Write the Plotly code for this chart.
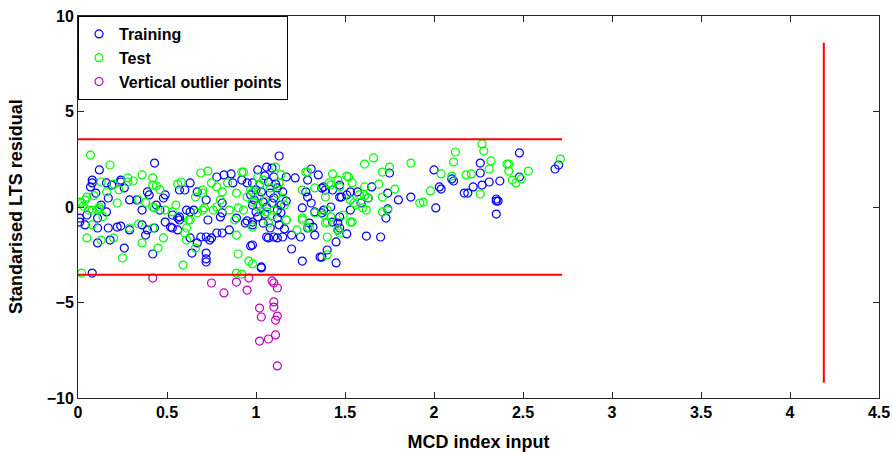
import plotly.graph_objects as go

# ---------------- data ----------------
train_x = [0.43,0.24,0.08,0.16,0.19,0.26,0.39,0.48,0.49,0.44,0.36,0.33,0.17,0.10,0.13,0.16,0.01,0.05,0.11,0.11,0.17,0.22,0.24,0.29,0.36,0.39,0.43,0.11,0.26,0.42,0.08,
           0.08,0.07,0.01,0.04,0.12,0.24,0.29,0.40,0.46,0.49,0.38,0.18,
           0.78,0.82,0.86,0.92,0.95,0.98,0.63,0.60,0.67,0.53,0.56,0.57,0.53,0.56,0.63,0.65,0.69,0.72,0.75,0.81,0.63,0.64,0.72,0.72,0.97,0.94,0.98,0.80,0.73,0.89,0.85,0.78,0.74,0.67,0.81,0.81,0.72,0.61,0.57,0.52,0.57,0.72,0.87,
           1.13,1.06,1.09,1.01,1.17,1.22,1.10,1.12,1.08,1.03,0.99,0.98,1.06,1.10,1.12,1.01,0.98,0.95,1.04,1.12,1.08,1.07,1.10,0.98,1.03,1.03,1.12,1.06,1.15,1.20,1.25,1.20,1.26,1.36,1.04,1.09,1.14,1.02,1.07,1.15,1.17,1.00,1.05,1.13,1.16,0.97,1.11,1.05,1.00,1.14,
           1.31,1.35,1.29,1.29,1.26,1.31,1.33,1.37,1.30,1.29,1.28,1.37,1.39,1.43,1.47,1.38,1.42,1.38,1.46,1.47,1.46,1.32,1.33,1.43,1.45,1.45,1.40,1.37,1.47,1.53,1.48,
           1.53,1.57,1.47,1.51,1.65,1.74,1.80,1.87,1.75,1.74,1.73,1.70,1.62,1.51,1.63,1.59,
           2.48,2.26,2.00,2.26,2.10,2.11,2.03,2.04,2.22,2.27,2.31,2.37,2.48,2.17,2.19,2.35,2.36,2.35,2.35,2.01,2.68,2.70]
train_y = [2.30,1.41,1.26,1.26,1.15,1.00,0.79,0.47,0.63,0.10,-0.16,0.37,0.47,0.73,0.10,-0.26,-0.79,-0.42,-0.58,-1.10,-1.10,-1.05,-1.00,-1.20,-0.94,-1.20,-1.10,-1.88,-2.15,-2.46,-3.46,
           1.41,1.05,-0.58,-0.94,1.94,1.31,0.37,0.63,-0.16,-0.79,-1.47,-1.73,
           1.57,1.68,1.73,1.41,1.26,1.26,1.26,0.89,0.79,-0.42,-0.58,-0.68,-1.10,-1.20,-0.26,-0.16,-1.57,-1.57,-1.62,-1.36,-1.62,-2.41,-2.41,-2.72,-2.04,-0.84,-0.94,-0.52,-0.68,-0.58,-1.20,-1.36,-1.73,-1.88,0.21,-0.31,0.37,-0.16,-0.52,-1.05,0.89,-2.88,1.26,
           2.67,2.09,2.04,1.94,1.57,1.52,1.57,1.00,0.73,0.79,0.37,0.10,0.00,0.47,-0.16,-0.52,-0.79,-0.73,-0.84,-0.58,-1.10,-1.62,-1.57,-1.99,-3.19,-3.14,-1.62,-1.57,-1.57,-1.47,-1.57,-2.20,-2.83,-2.62,0.26,0.21,0.10,1.15,1.31,0.79,0.31,-0.26,-0.37,-0.94,-1.15,0.63,1.20,1.63,0.90,-0.30,
           1.99,1.68,1.41,0.52,-0.05,0.21,-0.26,-0.31,-0.84,-1.10,0.79,0.99,0.89,0.89,1.15,1.05,0.00,-0.16,-0.84,-1.10,-1.20,-1.05,-1.47,-0.79,-1.83,-2.93,-2.25,-2.62,-0.52,-0.16,0.52,
           0.79,0.79,0.52,0.63,1.05,0.73,0.37,0.52,1.78,-0.10,-0.58,-1.57,-1.52,-1.41,0.47,0.21,
           2.83,2.30,1.94,1.78,1.47,1.36,1.05,0.94,1.05,1.15,1.31,1.36,1.57,0.73,0.73,0.42,0.31,0.31,-0.37,-0.05,1.99,2.20]

test_x = [0.07,0.18,0.13,0.28,0.28,0.31,0.36,0.42,0.42,0.44,0.01,0.02,0.04,0.06,0.08,0.11,0.16,0.22,0.34,0.42,0.43,0.49,0.53,0.08,0.05,0.13,0.20,0.29,0.34,0.36,0.45,0.48,0.25,0.02,0.42,0.03,0.05,0.09,0.12,0.14,0.20,0.23,0.38,0.46,0.12,
          0.69,0.73,0.56,0.58,0.66,0.70,0.80,0.71,0.76,0.85,0.90,0.62,0.61,0.60,0.66,0.59,0.88,0.89,0.90,0.96,0.98,0.92,0.97,0.81,0.75,0.84,0.78,0.70,0.78,0.70,0.63,0.61,0.89,0.92,0.93,0.89,0.95,0.93,0.55,0.67,
          1.01,1.04,1.11,1.13,1.08,1.02,0.98,1.06,1.10,1.01,0.98,1.07,1.15,1.17,1.23,1.28,1.33,1.26,1.17,1.39,1.40,1.39,0.98,1.02,1.05,1.12,1.09,1.14,1.03,1.16,1.29,1.26,1.33,1.30,
          1.66,1.61,1.87,1.75,1.71,1.43,1.51,1.54,1.61,1.69,1.78,1.71,1.63,1.61,1.58,1.53,1.40,1.41,1.47,1.56,1.40,1.40,1.52,1.46,1.42,1.53,1.55,1.60,1.62,1.71,1.74,1.26,1.29,1.38,1.42,1.49,1.54,1.46,1.47,
          2.27,2.28,2.12,2.11,2.32,2.31,2.41,2.42,2.42,2.53,2.44,2.46,2.49,2.71,2.04,2.10,2.18,2.21,2.26,1.98,1.92,1.94]
test_y = [2.72,2.20,1.31,1.52,1.31,1.36,1.68,1.52,1.15,1.10,0.26,0.21,0.37,-0.16,-0.16,-0.16,0.79,0.21,0.37,0.00,-0.05,-0.16,-0.26,-0.94,-1.62,-1.73,-1.62,-1.10,-0.89,-1.88,-2.15,-1.62,-2.67,-3.46,-1.10,0.05,0.52,0.60,0.00,-0.50,1.20,0.90,0.25,0.90,-0.10,
          1.78,1.88,1.20,1.31,0.52,0.73,0.37,-0.05,-0.16,-0.16,-0.05,-0.68,-1.10,-1.36,-2.15,-3.04,-0.68,-1.47,-2.46,-2.83,-2.98,1.83,0.89,0.79,1.26,1.26,1.05,0.89,0.00,-0.16,-0.68,-1.73,-3.46,-3.51,1.83,0.73,0.52,-0.16,0.10,-0.30,
          1.57,1.41,2.09,1.26,1.00,0.52,0.26,-0.26,-0.16,0.00,-1.05,-0.84,0.47,-0.68,-1.20,1.83,1.00,-0.68,-0.68,0.52,-0.16,-0.84,0.79,1.15,0.30,0.70,-0.45,1.70,-0.20,0.10,1.83,0.89,-0.31,-1.10,
          2.57,2.25,2.30,2.09,1.83,1.73,1.62,1.26,1.05,1.20,0.94,0.52,0.47,0.58,0.63,-0.79,-0.79,1.26,1.05,0.11,-1.57,-2.51,1.57,1.41,1.15,0.37,0.21,-0.05,-0.16,-0.26,-0.16,-0.58,-1.05,-0.42,-0.52,-0.42,-0.79,-1.20,-1.36,
          3.30,2.93,2.88,2.36,2.41,1.99,2.25,2.25,1.88,1.88,1.41,1.26,1.47,2.51,1.73,1.62,1.68,1.73,0.68,0.84,0.21,0.26]

outlier_x = [0.42,0.75,0.82,0.89,0.96,0.95,1.09,1.10,1.12,1.10,1.10,1.02,1.03,1.12,1.11,1.02,1.07,1.11,1.12]
outlier_y = [-3.72,-3.98,-4.50,-3.93,-3.72,-4.35,-3.87,-3.98,-4.24,-4.97,-5.24,-5.29,-5.76,-5.71,-5.92,-7.02,-6.91,-6.70,-8.32]

residual_cutoff = 3.55          # horizontal cut-off lines at +/- this value
cutoff_x_end = 2.72             # extent of horizontal lines
mcd_cutoff = 4.19               # vertical cut-off line position
mcd_line_y = [-9.2, 8.6]        # vertical line extent

x_ticks = [0, 0.5, 1, 1.5, 2, 2.5, 3, 3.5, 4, 4.5]
x_tick_labels = ["0", "0.5", "1", "1.5", "2", "2.5", "3", "3.5", "4", "4.5"]
y_ticks = [-10, -5, 0, 5, 10]
y_tick_labels = ["\u221210", "\u22125", "0", "5", "10"]

# ---------------- figure ----------------
FONT = "Liberation Sans"
fig = go.Figure()

def add_pts(x, y, name, color):
    fig.add_trace(go.Scatter(
        x=x, y=y, mode="markers", name=name,
        marker=dict(symbol="circle-open", size=8, color=color, line=dict(width=1.2, color=color)),
    ))

add_pts(train_x, train_y, "<b>Training</b>", "#0000ff")
add_pts(test_x, test_y, "<b>Test</b>", "#00ff00")
add_pts(outlier_x, outlier_y, "<b>Vertical outlier points</b>", "#c000c0")

line_style = dict(color="#ff0000", width=2)
for yv in (residual_cutoff, -residual_cutoff):
    fig.add_trace(go.Scatter(x=[0, cutoff_x_end], y=[yv, yv], mode="lines",
                             line=line_style, showlegend=False, hoverinfo="skip"))
fig.add_trace(go.Scatter(x=[mcd_cutoff, mcd_cutoff], y=mcd_line_y, mode="lines",
                         line=line_style, showlegend=False, hoverinfo="skip"))

axis_common = dict(
    showgrid=False, zeroline=False, showline=True, linecolor="#262626", linewidth=1,
    mirror="ticks", ticks="inside", ticklen=6, tickcolor="#262626",
    tickfont=dict(family=FONT, size=16, color="black"), automargin=False,
)

PLOT_L, PLOT_R = 78, 879
fig.update_layout(
    width=892, height=454,
    margin=dict(l=PLOT_L, r=892 - PLOT_R, t=16, b=56),
    paper_bgcolor="white", plot_bgcolor="white",
    font=dict(family=FONT, color="black"),
    xaxis=dict(range=[0, 4.5], tickvals=x_ticks, ticktext=[f"<b>{t}</b>" for t in x_tick_labels],
               title=dict(text="<b>MCD index input</b>", font=dict(family=FONT, size=18)),
               **axis_common),
    yaxis=dict(range=[-10, 10], tickvals=y_ticks, ticktext=[f"<b>{t}</b>" for t in y_tick_labels],
               **axis_common),
    legend=dict(x=0.0, y=1.0, xanchor="left", yanchor="top",
                bgcolor="white", bordercolor="black", borderwidth=1,
                font=dict(family=FONT, size=16, color="black"),
                itemwidth=30, tracegroupgap=0),
    showlegend=True,
    annotations=[dict(text="<b>Standarised LTS residual</b>", textangle=-90,
                      xref="paper", yref="paper", x=(16 - PLOT_L) / (PLOT_R - PLOT_L), y=0.5,
                      xanchor="center", yanchor="middle", showarrow=False,
                      font=dict(family=FONT, size=18, color="black"))],
)

fig.write_html("out.html", config={"displayModeBar": False},
               post_script="document.body.style.margin='0px';")
